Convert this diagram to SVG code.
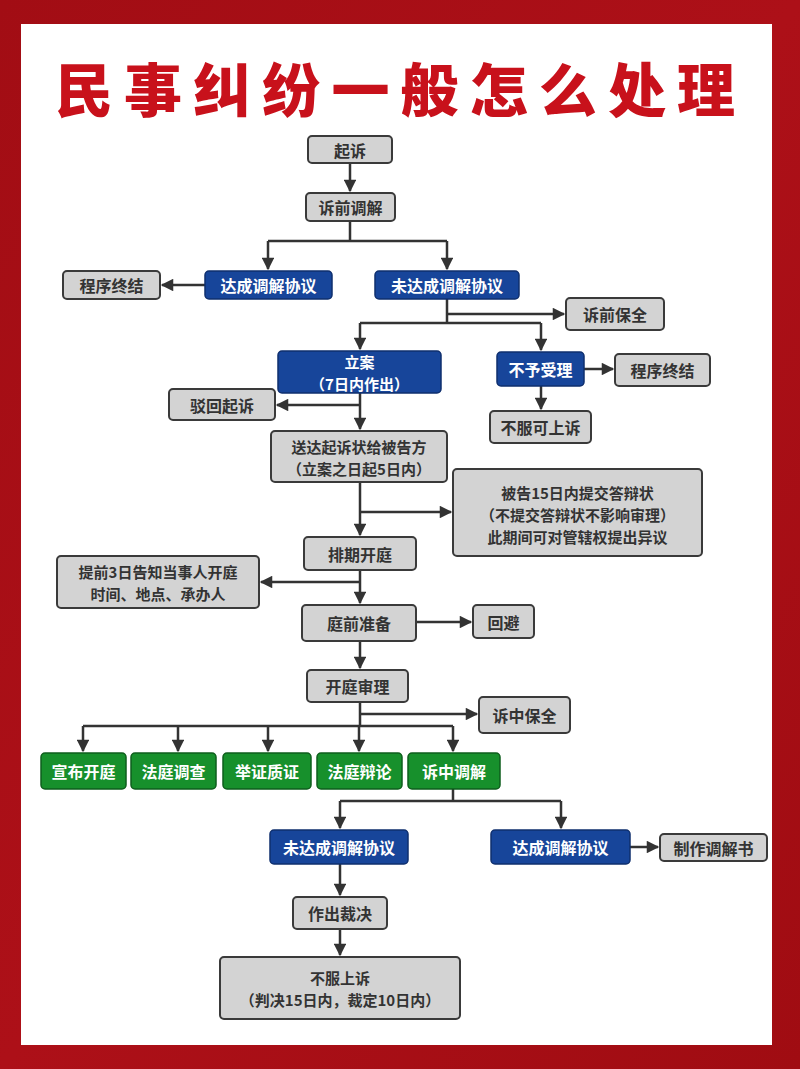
<svg xmlns="http://www.w3.org/2000/svg" width="800" height="1069" viewBox="0 0 800 1069">
<defs>
<linearGradient id="bg" x1="0" y1="0" x2="1" y2="1">
<stop offset="0" stop-color="#a20d14"/>
<stop offset="0.5" stop-color="#ad1018"/>
<stop offset="1" stop-color="#a00c12"/>
</linearGradient>
<marker id="ah" viewBox="0 0 10 10" refX="9" refY="5" markerWidth="5.5" markerHeight="5" orient="auto" markerUnits="strokeWidth">
<path d="M0,0 L10,5 L0,10 z" fill="#333"/>
</marker>
<style>
.g rect{fill:#d3d3d3;stroke:#3a3a3a;stroke-width:2}
.b rect{fill:#17459a;stroke:#0f2f6e;stroke-width:1.5}
.gr rect{fill:#17902c;stroke:#0e5e1c;stroke-width:1.5}
text{font-family:"Noto Sans CJK SC","Noto Sans",sans-serif;font-weight:bold;font-size:16px;text-anchor:middle;dominant-baseline:central}
text.m{font-size:15px}
.g text{fill:#333}
.b text,.gr text{fill:#fff}
#edges path{fill:none;stroke:#333;stroke-width:2.5}
#edges .a{marker-end:url(#ah)}
</style>
</defs>
<rect width="800" height="1069" fill="url(#bg)"/>
<rect x="21" y="24" width="751" height="1021" fill="#fff"/>
<text x="395" y="87" style="font-size:58px;font-weight:900;fill:#c8111b" textLength="680" lengthAdjust="spacing">民事纠纷一般怎么处理</text>

<g id="edges">
<path class="a" d="M350,163 V191"/>
<path d="M350,221 V241 M268,241 H447"/>
<path class="a" d="M268,241 V269"/>
<path class="a" d="M447,241 V269"/>
<path class="a" d="M205,285 H162"/>
<path d="M447,299 V323 M360,323 H541"/>
<path class="a" d="M447,314 H564"/>
<path class="a" d="M360,323 V349"/>
<path class="a" d="M541,323 V350"/>
<path class="a" d="M584,369 H613"/>
<path class="a" d="M541,386 V409"/>
<path class="a" d="M360,393 V429"/>
<path class="a" d="M360,405 H277"/>
<path class="a" d="M360,482 V535"/>
<path class="a" d="M360,512 H451"/>
<path class="a" d="M360,570 V603"/>
<path class="a" d="M360,582 H261"/>
<path class="a" d="M416,622 H471"/>
<path class="a" d="M360,641 V668"/>
<path d="M360,702 V726 M83,726 H453"/>
<path class="a" d="M360,714 H477"/>
<path class="a" d="M83,726 V751"/>
<path class="a" d="M178,726 V751"/>
<path class="a" d="M268,726 V751"/>
<path class="a" d="M359,726 V751"/>
<path class="a" d="M453,726 V751"/>
<path d="M453,789 V801 M340,801 H561"/>
<path class="a" d="M340,801 V828"/>
<path class="a" d="M561,801 V828"/>
<path class="a" d="M630,847 H658"/>
<path class="a" d="M340,864 V895"/>
<path class="a" d="M340,929 V955"/>
</g>

<g id="n1" class="g"><rect x="308" y="136" width="84" height="27" rx="4"/><text x="350" y="150">起诉</text></g>
<g id="n2" class="g"><rect x="306" y="193" width="89" height="28" rx="4"/><text x="350.5" y="207">诉前调解</text></g>
<g id="n3" class="b"><rect x="205" y="271" width="127" height="28" rx="4"/><text x="268.5" y="285">达成调解协议</text></g>
<g id="n4" class="g"><rect x="63" y="271" width="97" height="28" rx="4"/><text x="111.5" y="285">程序终结</text></g>
<g id="n5" class="b"><rect x="375" y="271" width="144" height="28" rx="4"/><text x="447" y="285">未达成调解协议</text></g>
<g id="n6" class="g"><rect x="566" y="298" width="98" height="32" rx="4"/><text x="615" y="314">诉前保全</text></g>
<g id="n7" class="b"><rect x="278" y="351" width="163" height="42" rx="4"/><text class="m" x="359.5" y="361">立案</text><text class="m" x="359.5" y="383">（7日内作出）</text></g>
<g id="n8" class="b"><rect x="497" y="352" width="87" height="34" rx="4"/><text x="540.5" y="369">不予受理</text></g>
<g id="n9" class="g"><rect x="615" y="354" width="95" height="32" rx="4"/><text x="662.5" y="370">程序终结</text></g>
<g id="n10" class="g"><rect x="490" y="411" width="101" height="32" rx="4"/><text x="540.5" y="427">不服可上诉</text></g>
<g id="n11" class="g"><rect x="169" y="389" width="106" height="31" rx="4"/><text x="222" y="404.5">驳回起诉</text></g>
<g id="n12" class="g"><rect x="271" y="431" width="176" height="51" rx="4"/><text class="m" x="359" y="446">送达起诉状给被告方</text><text class="m" x="359" y="468">（立案之日起5日内）</text></g>
<g id="n13" class="g"><rect x="453" y="469" width="249" height="87" rx="4"/><text class="m" x="577.5" y="492">被告15日内提交答辩状</text><text class="m" x="577.5" y="514">（不提交答辩状不影响审理）</text><text class="m" x="577.5" y="536">此期间可对管辖权提出异议</text></g>
<g id="n14" class="g"><rect x="304" y="537" width="112" height="33" rx="4"/><text x="360" y="553.5">排期开庭</text></g>
<g id="n15" class="g"><rect x="57" y="556" width="202" height="52" rx="4"/><text class="m" x="158" y="571">提前3日告知当事人开庭</text><text class="m" x="158" y="593">时间、地点、承办人</text></g>
<g id="n16" class="g"><rect x="302" y="605" width="114" height="36" rx="4"/><text x="359" y="623">庭前准备</text></g>
<g id="n17" class="g"><rect x="473" y="605" width="61" height="33" rx="4"/><text x="503.5" y="621.5">回避</text></g>
<g id="n18" class="g"><rect x="307" y="670" width="101" height="32" rx="4"/><text x="357.5" y="686">开庭审理</text></g>
<g id="n19" class="g"><rect x="479" y="697" width="91" height="36" rx="4"/><text x="524.5" y="715">诉中保全</text></g>
<g id="n20" class="gr"><rect x="41" y="753" width="85" height="36" rx="4"/><text x="83.5" y="771">宣布开庭</text></g>
<g id="n21" class="gr"><rect x="131" y="753" width="85" height="36" rx="4"/><text x="173.5" y="771">法庭调查</text></g>
<g id="n22" class="gr"><rect x="223" y="753" width="88" height="36" rx="4"/><text x="267" y="771">举证质证</text></g>
<g id="n23" class="gr"><rect x="317" y="753" width="85" height="36" rx="4"/><text x="359.5" y="771">法庭辩论</text></g>
<g id="n24" class="gr"><rect x="408" y="753" width="92" height="36" rx="4"/><text x="454" y="771">诉中调解</text></g>
<g id="n25" class="b"><rect x="270" y="830" width="138" height="34" rx="4"/><text x="339" y="847">未达成调解协议</text></g>
<g id="n26" class="b"><rect x="491" y="830" width="139" height="34" rx="4"/><text x="560.5" y="847">达成调解协议</text></g>
<g id="n27" class="g"><rect x="660" y="834" width="107" height="27" rx="4"/><text x="713.5" y="847.5">制作调解书</text></g>
<g id="n28" class="g"><rect x="293" y="897" width="94" height="32" rx="4"/><text x="340" y="913">作出裁决</text></g>
<g id="n29" class="g"><rect x="220" y="957" width="240" height="62" rx="4"/><text class="m" x="340" y="977">不服上诉</text><text class="m" x="340" y="999">（判决15日内，裁定10日内）</text></g>
</svg>
